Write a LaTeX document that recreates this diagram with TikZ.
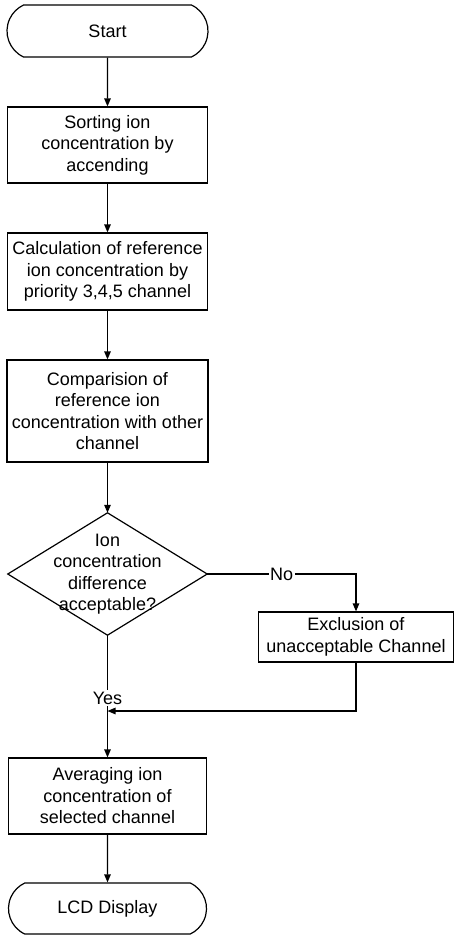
\documentclass[tikz,border=0pt]{standalone}
\usepackage{fontspec}
\setmainfont{Liberation Sans}
\usetikzlibrary{arrows.meta,shapes.misc}
\begin{document}
\begin{tikzpicture}[x=1pt,y=-1pt,
  every node/.style={font=\fontsize{18}{21.5}\selectfont, inner sep=0pt, align=center},
  proc/.style={draw, line width=1.2pt, minimum width=200pt},
  term/.style={draw, line width=1.2pt, rounded rectangle, rounded rectangle arc length=130, minimum width=200pt},
  conn/.style={line width=1.2pt, -{Triangle[length=8pt,width=6.5pt]}},
  plain/.style={line width=1.2pt},
  lab/.style={fill=white, inner sep=1.5pt}
]
\useasboundingbox (0,0) rectangle (456,935);
\node[term, minimum width=201pt, minimum height=52pt] (start) at (107.5,31) {Start};
\node[proc, minimum height=76pt] (sort) at (107.5,145) {Sorting ion\\concentration by\\accending};
\node[proc, minimum height=77pt] (calc) at (107.5,271.5) {Calculation of reference\\ion concentration by\\priority 3,4,5 channel};
\node[proc, minimum height=102pt, minimum width=201pt] (comp) at (107.5,411) {Comparision of\\reference ion\\concentration with other\\channel};
\node[minimum width=199pt, minimum height=122pt] (dec) at (107.5,574) {Ion\\concentration\\difference\\acceptable?};
\draw[plain] (dec.north) -- (dec.east) -- (dec.south) -- (dec.west) -- cycle;
\node[proc, minimum width=195pt, minimum height=50pt] (excl) at (356,637) {Exclusion of\\unacceptable Channel};
\coordinate (merge) at (107.5,711);
\coordinate (cornerNo) at (excl.north |- dec.east);
\coordinate (cornerEx) at (excl.south |- merge);
\node[proc, minimum width=198pt, minimum height=76pt] (avg) at (107.5,796) {Averaging ion\\concentration of\\selected channel};
\node[term, minimum width=198pt, minimum height=51pt] (lcd) at (107.5,908.5) {LCD Display};

\draw[conn] (start) -- (sort);
\draw[conn] (sort) -- (calc);
\draw[conn] (calc) -- (comp);
\draw[conn] (comp.south) -- (dec.north);
\draw[conn] (dec.east) -- node[lab, pos=0.5] {No} (cornerNo) -- (excl.north);
\draw[plain] (dec.south) -- node[lab, pos=0.83] {Yes} (merge);
\draw[conn] (excl.south) -- (cornerEx) -- (merge);
\draw[conn] (merge) -- (avg.north);
\draw[conn] (avg) -- (lcd);
\end{tikzpicture}
\end{document}
